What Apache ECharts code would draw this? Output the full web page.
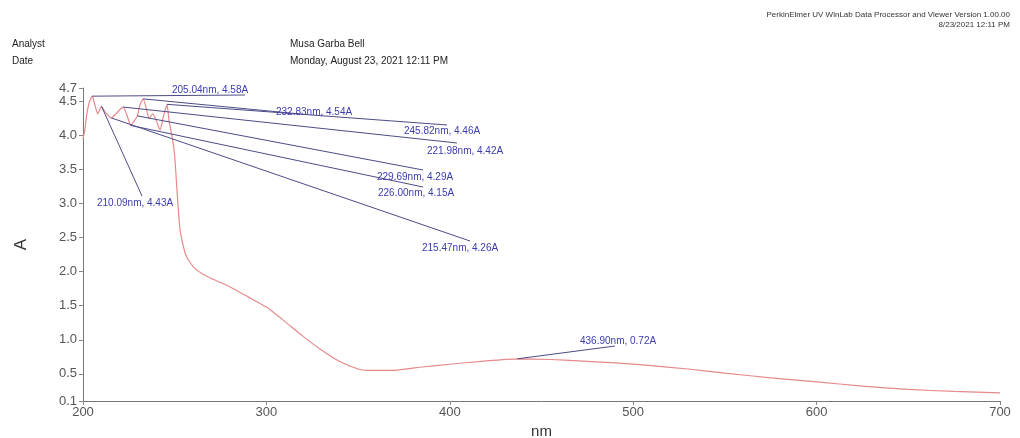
<!DOCTYPE html>
<html>
<head>
<meta charset="utf-8">
<script src="https://cdn.jsdelivr.net/npm/echarts@6/dist/echarts.min.js"></script>
<style>
html,body{margin:0;padding:0;background:#fff;}
#chart{width:1020px;height:438px;}
</style>
</head>
<body>
<div id="chart"></div>
<script>
// ---- data ----
const wavelength = [200, 201, 202, 203.5, 205.04, 206.5, 208, 210.09, 212, 215.47, 218, 220, 221.98, 224, 226.0, 228, 229.69, 231, 232.83, 234.5, 236, 238, 240, 242, 244, 245.82, 247, 248.5, 250, 251, 252, 253, 254.5, 256, 258, 261, 265, 270, 280, 290, 300, 310, 320, 330, 340, 350, 355, 370, 385, 400, 420, 436.9, 455, 470, 490, 510, 530, 550, 575, 600, 625, 650, 675, 700];
const absorbance = [3.95, 4.08, 4.3, 4.5, 4.58, 4.45, 4.32, 4.43, 4.35, 4.26, 4.32, 4.38, 4.42, 4.3, 4.15, 4.22, 4.29, 4.45, 4.54, 4.4, 4.25, 4.32, 4.22, 4.08, 4.3, 4.46, 4.2, 4.0, 3.7, 3.3, 2.9, 2.6, 2.4, 2.25, 2.15, 2.05, 1.97, 1.9, 1.78, 1.63, 1.48, 1.27, 1.05, 0.85, 0.68, 0.57, 0.55, 0.55, 0.6, 0.64, 0.69, 0.72, 0.71, 0.69, 0.66, 0.62, 0.57, 0.51, 0.44, 0.38, 0.32, 0.27, 0.24, 0.22];
const peakNm = [205.04, 210.09, 215.47, 221.98, 226.00, 229.69, 232.83, 245.82, 436.90];
const peakA = [4.58, 4.43, 4.26, 4.42, 4.15, 4.29, 4.54, 4.46, 0.72];
const xTicks = [200, 300, 400, 500, 600, 700];
const yTicks = [0.1, 0.5, 1.0, 1.5, 2.0, 2.5, 3.0, 3.5, 4.0, 4.5, 4.7];

// ---- layout (pixel positions of annotation labels and leader ends) ----
const labelPos = [[172, 90], [97, 203], [422, 248], [427, 151], [378, 193], [377, 177], [276, 112], [404, 131], [580, 341]];
const leaderEnd = [[245, 95], [142, 196], [470, 241], [457, 143], [423, 187], [423, 170], [300, 114], [447, 125], [615, 346]];

const chart = echarts.init(document.getElementById('chart'));
const labelColor = '#3b3bb0';
const leaderColor = '#4c4c88';
const font = '"Liberation Sans", Arial, sans-serif';

const markLineData = peakNm.map((nm, i) => [
  { coord: [nm, peakA[i]] },
  { x: leaderEnd[i][0], y: leaderEnd[i][1] }
]);
const markPointData = peakNm.map((nm, i) => ({
  x: labelPos[i][0], y: labelPos[i][1], value: nm,
  label: { formatter: nm.toFixed(2) + 'nm, ' + peakA[i].toFixed(2) + 'A' }
}));

chart.setOption({
  animation: false,
  backgroundColor: '#fff',
  textStyle: { fontFamily: font },
  grid: { left: 83, right: 20, top: 88, bottom: 37, outerBoundsMode: 'none', containLabel: false },
  xAxis: {
    type: 'value', min: xTicks[0], max: xTicks[xTicks.length - 1], interval: 100,
    name: 'nm', nameLocation: 'middle', nameGap: 19,
    nameTextStyle: { fontSize: 15, color: '#333', fontFamily: font },
    axisLine: { lineStyle: { color: '#777', width: 1 } },
    axisTick: { show: true, length: 4, lineStyle: { color: '#888' } },
    axisLabel: { fontSize: 13, color: '#555', margin: 5, fontFamily: font },
    splitLine: { show: false }
  },
  yAxis: {
    type: 'value', min: yTicks[0], max: yTicks[yTicks.length - 1],
    name: 'A', nameLocation: 'middle', nameGap: 53,
    nameTextStyle: { fontSize: 17, color: '#333', fontFamily: font },
    axisLine: { show: true, lineStyle: { color: '#777', width: 1 } },
    axisTick: { show: true, length: 4, lineStyle: { color: '#888' }, customValues: yTicks },
    axisLabel: { fontSize: 13, color: '#555', margin: 6, fontFamily: font, customValues: yTicks,
      formatter: v => Number(v).toFixed(1) },
    splitLine: { show: false }
  },
  series: [{
    type: 'line',
    data: wavelength.map((w, i) => [w, absorbance[i]]),
    showSymbol: false,
    smooth: 0.15,
    lineStyle: { color: '#e6898a', width: 1.2 },
    markLine: {
      silent: true, symbol: 'none', animation: false,
      lineStyle: { color: leaderColor, width: 1, type: 'solid' },
      label: { show: false },
      data: markLineData
    },
    markPoint: {
      silent: true, symbol: 'circle', symbolSize: 0, animation: false,
      label: { show: true, position: 'right', distance: 0, color: labelColor, fontSize: 10, fontFamily: font },
      data: markPointData
    }
  }],
  graphic: [
    { type: 'text', left: 12, top: 39, style: { text: 'Analyst', fontSize: 10, fill: '#222', fontFamily: font } },
    { type: 'text', left: 12, top: 56, style: { text: 'Date', fontSize: 10, fill: '#222', fontFamily: font } },
    { type: 'text', left: 290, top: 39, style: { text: 'Musa Garba Bell', fontSize: 10, fill: '#222', fontFamily: font } },
    { type: 'text', left: 290, top: 56, style: { text: 'Monday, August 23, 2021 12:11 PM', fontSize: 10, fill: '#222', fontFamily: font } },
    { type: 'text', right: 10, top: 11, style: { text: 'PerkinElmer UV WinLab Data Processor and Viewer Version 1.00.00', fontSize: 8, fill: '#333', fontFamily: font } },
    { type: 'text', right: 10, top: 21, style: { text: '8/23/2021 12:11 PM', fontSize: 8, fill: '#333', fontFamily: font } }
  ]
});
</script>
</body>
</html>
